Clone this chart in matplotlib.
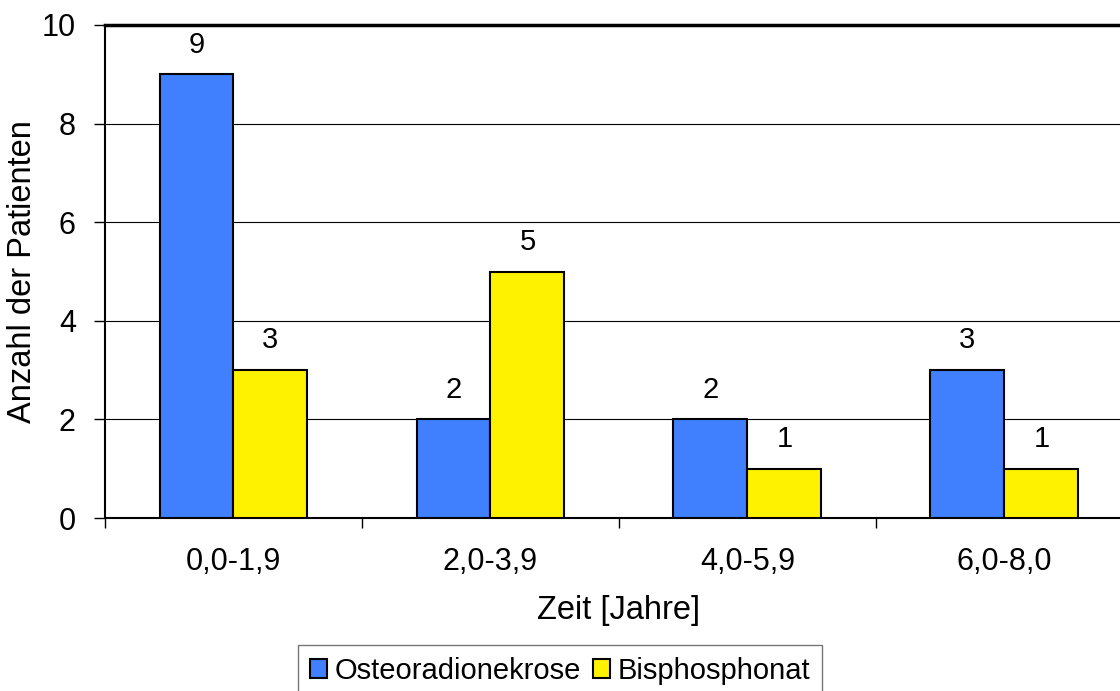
import matplotlib.pyplot as plt
import numpy as np

plt.rcParams['font.family'] = ['Liberation Sans', 'DejaVu Sans']

# data
categories = ['0,0-1,9', '2,0-3,9', '4,0-5,9', '6,0-8,0']
osteo = [9, 2, 2, 3]
bisph = [3, 5, 1, 1]

blue = '#4080FF'
yellow = '#FFF200'

W, H = 1120, 691
fig = plt.figure(figsize=(W / 100, H / 100), dpi=100)
# plot area: left 105px, top 25px, bottom 518px, category width 257px (runs past right edge)
ax = fig.add_axes([105 / W, 1 - 518 / H, 4 * 257 / W, (518 - 25) / H])

x = np.arange(len(categories))
bw = 74 / 257
b1 = ax.bar(x - bw / 2, osteo, bw, color=blue, edgecolor='black', linewidth=1.5,
            label='Osteoradionekrose', zorder=3)
b2 = ax.bar(x + bw / 2, bisph, bw, color=yellow, edgecolor='black', linewidth=1.5,
            label='Bisphosphonat', zorder=3)

for bars in (b1, b2):
    for r in bars:
        ax.text(r.get_x() + r.get_width() / 2, r.get_height() + 0.44, str(int(r.get_height())),
                ha='center', va='baseline', fontsize=21)

ax.set_xlim(-0.5, 3.5)
ax.set_ylim(0, 10)
ax.set_yticks([0, 2, 4, 6, 8, 10])
ax.set_yticklabels(['0', '2', '4', '6', '8', '10'], fontsize=22)
ax.yaxis.grid(True, color='black', linewidth=0.8, zorder=0)
ax.set_axisbelow(True)

# category labels centred, ticks at boundaries
ax.set_xticks(x)
ax.set_xticklabels(categories, fontsize=22)
ax.tick_params(axis='x', length=0, pad=21)
ax.set_xticks([-0.5, 0.5, 1.5, 2.5, 3.5], minor=True)
ax.tick_params(axis='x', which='minor', length=7, width=1, direction='out')
ax.tick_params(axis='y', length=8, width=1, direction='out', pad=13)

for s in ['top', 'right']:
    ax.spines[s].set_visible(False)
ax.spines['left'].set_linewidth(1.5)
ax.spines['bottom'].set_linewidth(1.5)
ax.axhline(10, color='black', linewidth=2.5, zorder=4, clip_on=False)

ax.set_ylabel('Anzahl der Patienten', fontsize=23.5)
ax.set_xlabel('Zeit [Jahre]', fontsize=23.5, labelpad=13)
ax.yaxis.set_label_coords(-67 / 1028, 0.5)

leg = fig.legend(loc='upper center', bbox_to_anchor=(560 / W, 1 - 645 / H), ncol=2,
                 fontsize=21, frameon=True, fancybox=False, edgecolor='#555555',
                 handlelength=0.6, handleheight=0.6, handletextpad=0.25,
                 columnspacing=0.4, borderpad=0.4, borderaxespad=0)
leg.get_frame().set_linewidth(1)

fig.savefig('out.png', dpi=100)
